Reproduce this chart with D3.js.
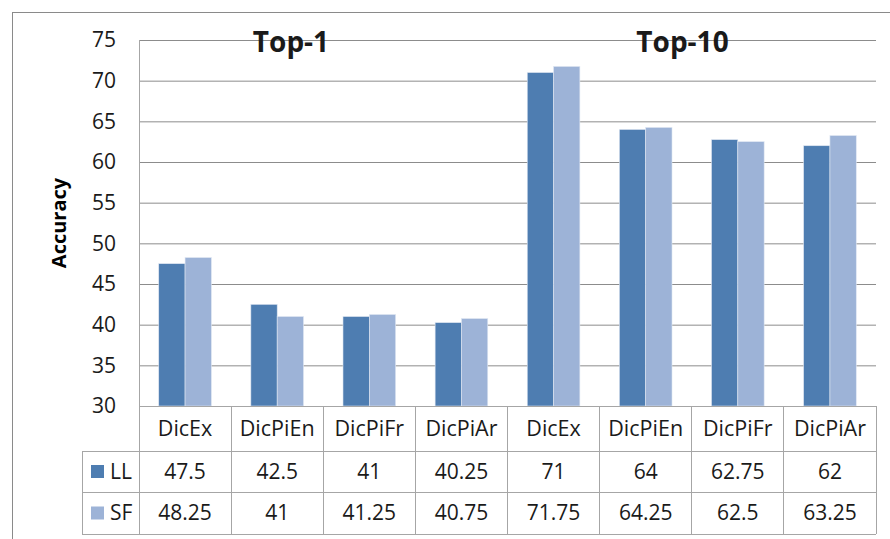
<!DOCTYPE html>
<html>
<head>
<meta charset="utf-8">
<script src="https://cdn.jsdelivr.net/npm/d3@7"></script>
<style>
  body { margin: 0; background: #fff; }
  text { font-family: "Open Sans", sans-serif; fill: #1a1a1a; }
</style>
</head>
<body>
<div id="chart"></div>
<script>
"use strict";

// data
const groups = ["Top-1", "Top-10"];
const methods = ["DicEx", "DicPiEn", "DicPiFr", "DicPiAr"];
const seriesNames = ["LL", "SF"];
const llValues = [47.5, 42.5, 41, 40.25, 71, 64, 62.75, 62];
const sfValues = [48.25, 41, 41.25, 40.75, 71.75, 64.25, 62.5, 63.25];
const yTicks = [30, 35, 40, 45, 50, 55, 60, 65, 70, 75];

const colors = { LL: "#4e7db1", SF: "#9db3d7" };
const gridColor = "#8c8c8c";
const tableColor = "#a6a6a6";

const W = 890, H = 539;
const margin = { top: 40, right: 14, bottom: 133, left: 139 };
const plotW = 876 - margin.left, plotH = 406 - margin.top;
const rowH = [45, 41, 42]; // category row, LL row, SF row
const legendLeft = 82;

// one column per (group, method)
const columns = [];
groups.forEach((g, gi) => methods.forEach((m, mi) => {
    const i = gi * methods.length + mi;
    columns.push({ key: i, group: g, method: m, LL: llValues[i], SF: sfValues[i] });
}));

const svg = d3.select("#chart").append("svg")
    .attr("width", W).attr("height", H);

// outer chart border
svg.append("rect")
    .attr("x", 12.5).attr("y", 12.5)
    .attr("width", W).attr("height", H)
    .attr("fill", "none").attr("stroke", "#8a8a8a");

const g = svg.append("g").attr("transform", `translate(${margin.left},${margin.top})`);

const x0 = d3.scaleBand().domain(columns.map(d => d.key)).range([0, plotW]);
const x1 = d3.scaleBand().domain(seriesNames).range([0, x0.bandwidth()]).paddingInner(0).paddingOuter(0.75);
const y = d3.scaleLinear().domain([30, 75]).range([plotH, 0]);

// gridlines + tick labels
const yAxis = g.append("g")
    .call(d3.axisLeft(y).tickValues(yTicks).tickSize(-plotW).tickPadding(23));
yAxis.select(".domain").remove();
yAxis.selectAll(".tick line").attr("stroke", gridColor);
yAxis.selectAll(".tick text")
    .attr("font-size", 21).attr("font-family", "Open Sans").attr("fill", "#1a1a1a");

// bars
const col = g.selectAll("g.col").data(columns).join("g")
    .attr("class", "col")
    .attr("transform", d => `translate(${x0(d.key)},0)`);

col.selectAll("rect")
    .data(d => seriesNames.map(s => ({ s, v: d[s] })))
    .join("rect")
    .attr("x", d => x1(d.s))
    .attr("y", d => y(d.v))
    .attr("width", x1.bandwidth())
    .attr("height", d => y(30) - y(d.v))
    .attr("fill", d => colors[d.s])
    .attr("stroke", "#dfe7f2").attr("stroke-width", 0.6);

// group titles
const titleX = { "Top-1": 152, "Top-10": 543.5 };
g.selectAll("text.title").data(groups).join("text")
    .attr("class", "title")
    .attr("x", d => titleX[d])
    .attr("y", 12)
    .attr("text-anchor", "middle")
    .attr("font-size", 28).attr("font-weight", "bold")
    .attr("fill", "#000")
    .text(d => d);

// y-axis title
svg.append("text")
    .attr("transform", "translate(66,223) rotate(-90)")
    .attr("text-anchor", "middle")
    .attr("font-size", 20).attr("font-weight", "bold")
    .style("fill", "#000")
    .text("Accuracy");

// data table below the plot
const tbl = g.append("g").attr("transform", `translate(0,${plotH})`);
const rowTop = [0, rowH[0], rowH[0] + rowH[1], rowH[0] + rowH[1] + rowH[2]];
const line = (x1_, y1_, x2_, y2_) => tbl.append("line")
    .attr("x1", x1_).attr("y1", y1_).attr("x2", x2_).attr("y2", y2_)
    .attr("stroke", tableColor).attr("shape-rendering", "crispEdges");

const legX = legendLeft - margin.left;
line(0, 0, plotW, 0);
line(legX, rowTop[1], plotW, rowTop[1]);
line(legX, rowTop[2], plotW, rowTop[2]);
line(legX, rowTop[3], plotW, rowTop[3]);
line(legX, rowTop[1], legX, rowTop[3]);
columns.forEach(d => line(x0(d.key) + x0.bandwidth(), 0, x0(d.key) + x0.bandwidth(), rowTop[3]));
// left axis line running through the table
g.append("line")
    .attr("x1", 0).attr("x2", 0).attr("y1", 0).attr("y2", plotH + rowTop[3])
    .attr("stroke", tableColor).attr("shape-rendering", "crispEdges");

tbl.selectAll("text.cat").data(columns).join("text")
    .attr("class", "cat")
    .attr("x", d => x0(d.key) + x0.bandwidth() / 2)
    .attr("y", rowTop[0] + rowH[0] / 2)
    .attr("dy", "0.35em")
    .attr("text-anchor", "middle")
    .attr("font-size", 21.5)
    .text(d => d.method);

seriesNames.forEach((s, si) => {
    const cy = rowTop[si + 1] + rowH[si + 1] / 2;
    tbl.selectAll(`text.v${s}`).data(columns).join("text")
        .attr("class", `v${s}`)
        .attr("x", d => x0(d.key) + x0.bandwidth() / 2)
        .attr("y", cy)
        .attr("dy", "0.35em")
        .attr("text-anchor", "middle")
        .attr("font-size", 21)
        .text(d => d[s]);
    tbl.append("rect")
        .attr("x", legX + 9).attr("y", cy - 6.5)
        .attr("width", 13).attr("height", 13)
        .attr("fill", colors[s]);
    tbl.append("text")
        .attr("x", legX + 28).attr("y", cy)
        .attr("dy", "0.35em")
        .attr("font-size", 21)
        .text(s);
});
</script>
</body>
</html>
